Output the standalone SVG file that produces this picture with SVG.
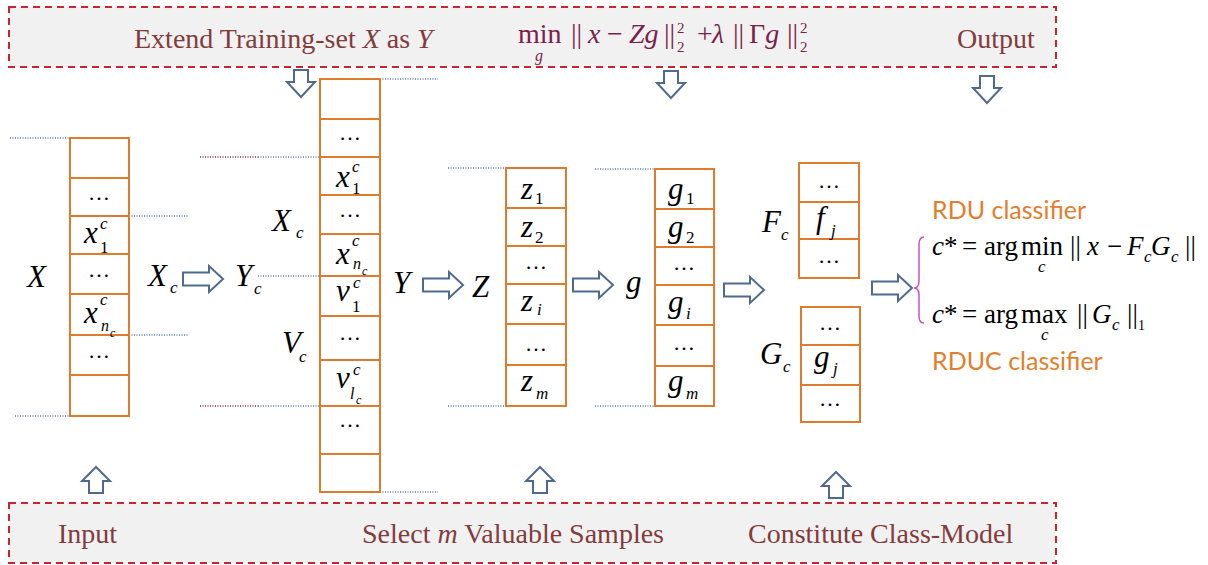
<svg xmlns="http://www.w3.org/2000/svg" xmlns:xlink="http://www.w3.org/1999/xlink" width="1208" height="565" viewBox="0 0 1208 565">
<style>
.ban{fill:#f1f1f1;stroke:#c8262e;stroke-width:2;stroke-dasharray:7 5}
.bt{font-family:"Liberation Serif",serif;font-size:28px;fill:#833c3c}
.fm{font-family:"Liberation Serif",serif;font-size:28px;fill:#7a1f4c}
.cell{fill:#fff;stroke:#e07b2c;stroke-width:2}
.it{font-family:"Liberation Serif",serif;font-style:italic;fill:#000}
.rm{font-family:"Liberation Serif",serif;fill:#000}
.dots{font-family:"Liberation Serif",serif;font-size:22px;text-anchor:middle;fill:#000}
.blk{fill:#fff;stroke:#4f6a8f;stroke-width:2}
.db{stroke:#5878b0;stroke-width:1.3;stroke-dasharray:1 1.5;fill:none}
.dr{stroke:#8a2a44;stroke-width:1.3;stroke-dasharray:1 1.5;fill:none}
.or{font-family:Lato,"Liberation Sans",sans-serif;font-size:25px;fill:#e27e2d}
.L{font-size:31px}.M{font-size:31px}.F{font-size:27px}.S{font-size:17px}.SS{font-size:12px}
</style>
<defs>
<path id="ar" d="M0,-6.5 H26 V-13 L40,0 L26,13 V6.5 H0 Z"/>
<path id="ad" d="M-7,0 H7 V12 H14 L0,27 L-14,12 H-7 Z"/>
<path id="au" d="M-7,26 H7 V14 H14 L0,0 L-14,14 H-7 Z"/>
</defs>

<g id="top-banner">
<rect class="ban" x="9" y="7" width="1047" height="60"/>
<text class="bt" x="134" y="48">Extend Training-set <tspan font-style="italic">X</tspan> as <tspan font-style="italic">Y</tspan></text>
<text class="bt" x="957" y="48">Output</text>
<g class="fm">
<text x="518" y="43">min</text>
<text x="535" y="61" font-style="italic" font-size="16">g</text>
<text x="571" y="43">||</text>
<text x="588" y="43" font-style="italic">x</text>
<text x="607" y="43">−</text>
<text x="629" y="43" font-style="italic">Zg</text>
<text x="664" y="43">||</text>
<text x="677" y="33" font-size="15">2</text>
<text x="677" y="52" font-size="15">2</text>
<text x="697" y="43">+</text>
<text x="712" y="43" font-style="italic">λ</text>
<text x="733" y="43">||</text>
<text x="749" y="43">Γ<tspan font-style="italic">g</tspan></text>
<text x="787" y="43">||</text>
<text x="800" y="33" font-size="15">2</text>
<text x="800" y="52" font-size="15">2</text>
</g>
</g>
<g id="bottom-banner">
<rect class="ban" x="9" y="503" width="1047" height="60"/>
<text class="bt" x="58" y="543">Input</text>
<text class="bt" x="362" y="543">Select <tspan font-style="italic">m</tspan> Valuable Samples</text>
<text class="bt" x="748" y="543">Constitute Class-Model</text>
</g>

<g id="connectors">
<line class="db" x1="10" y1="138" x2="70" y2="138"/>
<line class="db" x1="15" y1="416" x2="70" y2="416"/>
<line class="db" x1="129" y1="216" x2="188" y2="216"/>
<line class="db" x1="129" y1="335" x2="188" y2="335"/>
<line class="dr" x1="200" y1="157" x2="258" y2="157"/>
<line class="db" x1="258" y1="157" x2="320" y2="157"/>
<line class="db" x1="258" y1="276" x2="320" y2="276"/>
<line class="dr" x1="200" y1="406" x2="258" y2="406"/>
<line class="db" x1="258" y1="406" x2="320" y2="406"/>
<line class="db" x1="380" y1="79" x2="438" y2="79"/>
<line class="db" x1="380" y1="492" x2="438" y2="492"/>
<line class="db" x1="448" y1="168" x2="506" y2="168"/>
<line class="db" x1="448" y1="406" x2="506" y2="406"/>
<line class="db" x1="595" y1="169" x2="655" y2="169"/>
<line class="db" x1="595" y1="406" x2="655" y2="406"/>
<use class="blk" href="#ar" x="183" y="279"/>
<use class="blk" href="#ar" x="423" y="285"/>
<use class="blk" href="#ar" x="573" y="285"/>
<use class="blk" href="#ar" x="724" y="290"/>
<use class="blk" href="#ar" x="872" y="288"/>
<use class="blk" href="#ad" x="301" y="70"/>
<use class="blk" href="#ad" x="671" y="71"/>
<use class="blk" href="#ad" x="987" y="76"/>
<use class="blk" href="#au" x="96" y="467"/>
<use class="blk" href="#au" x="540" y="467"/>
<use class="blk" href="#au" x="836" y="472"/>
<path d="M924,237 Q919,237 919,245 L919,281 Q919,288 914,288 Q919,288 919,295 L919,316 Q919,323 924,323" fill="none" stroke="#cc44c4" stroke-width="1.4"/>
</g>

<g id="labels">
<text class="it L" x="27" y="287">X</text>
<text class="it L" x="148" y="286">X</text><text class="it S" x="170" y="293">c</text>
<text class="it L" x="235" y="286">Y</text><text class="it S" x="254" y="294">c</text>
<text class="it L" x="272" y="231">X</text><text class="it S" x="296" y="238">c</text>
<text class="it L" x="282" y="353">V</text><text class="it S" x="299" y="362">c</text>
<text class="it L" x="393" y="293">Y</text>
<text class="it L" x="472" y="297">Z</text>
<text class="it L" x="626" y="292">g</text>
<text class="it L" x="762" y="232">F</text><text class="it S" x="781" y="240">c</text>
<text class="it L" x="760" y="364">G</text><text class="it S" x="783" y="372">c</text>
</g>

<g id="col-X">
<rect class="cell" x="70" y="138" width="59" height="40"/>
<rect class="cell" x="70" y="178" width="59" height="38"/>
<rect class="cell" x="70" y="216" width="59" height="38"/>
<rect class="cell" x="70" y="254" width="59" height="40"/>
<rect class="cell" x="70" y="294" width="59" height="41"/>
<rect class="cell" x="70" y="335" width="59" height="40"/>
<rect class="cell" x="70" y="375" width="59" height="41"/>
<text class="dots" x="99" y="200">…</text>
<text class="it M" x="84" y="243">x</text><text class="it S" x="100" y="229">c</text><text class="rm S" x="100" y="253">1</text>
<text class="dots" x="99" y="277">…</text>
<text class="it M" x="84" y="323">x</text><text class="it S" x="100" y="305">c</text><text class="it" font-size="16" x="101" y="331">n</text><text class="it SS" x="110" y="337">c</text>
<text class="dots" x="99" y="358">…</text>
</g>

<g id="col-Y">
<rect class="cell" x="320" y="79" width="60" height="40"/>
<rect class="cell" x="320" y="119" width="60" height="38"/>
<rect class="cell" x="320" y="157" width="60" height="38"/>
<rect class="cell" x="320" y="195" width="60" height="39"/>
<rect class="cell" x="320" y="234" width="60" height="42"/>
<rect class="cell" x="320" y="276" width="60" height="40"/>
<rect class="cell" x="320" y="316" width="60" height="44"/>
<rect class="cell" x="320" y="360" width="60" height="46"/>
<rect class="cell" x="320" y="406" width="60" height="48"/>
<rect class="cell" x="320" y="454" width="60" height="38"/>
<text class="dots" x="350" y="140">…</text>
<text class="it M" x="336" y="187">x</text><text class="it S" x="352" y="172">c</text><text class="rm S" x="352" y="194">1</text>
<text class="dots" x="350" y="217">…</text>
<text class="it M" x="336" y="264">x</text><text class="it S" x="352" y="246">c</text><text class="it" font-size="16" x="353" y="269">n</text><text class="it SS" x="362" y="275">c</text>
<text class="it M" x="336" y="301">v</text><text class="it S" x="353" y="288">c</text><text class="rm S" x="352" y="312">1</text>
<text class="dots" x="350" y="340">…</text>
<text class="it M" x="336" y="388">v</text><text class="it S" x="353" y="375">c</text><text class="it" font-size="16" x="350" y="399">l</text><text class="it SS" x="356" y="404">c</text>
<text class="dots" x="350" y="427">…</text>
</g>

<g id="col-Z">
<rect class="cell" x="506" y="168" width="60" height="40"/>
<rect class="cell" x="506" y="208" width="60" height="38"/>
<rect class="cell" x="506" y="246" width="60" height="38"/>
<rect class="cell" x="506" y="284" width="60" height="40"/>
<rect class="cell" x="506" y="324" width="60" height="41"/>
<rect class="cell" x="506" y="365" width="60" height="41"/>
<text class="it M" x="521" y="199">z</text><text class="rm S" x="535" y="204">1</text>
<text class="it M" x="521" y="237">z</text><text class="rm S" x="535" y="243">2</text>
<text class="dots" x="536" y="269">…</text>
<text class="it M" x="521" y="311">z</text><text class="it S" x="537" y="315">i</text>
<text class="dots" x="536" y="351">…</text>
<text class="it M" x="521" y="391">z</text><text class="it S" x="536" y="399">m</text>
</g>

<g id="col-g">
<rect class="cell" x="655" y="169" width="59" height="40"/>
<rect class="cell" x="655" y="209" width="59" height="38"/>
<rect class="cell" x="655" y="247" width="59" height="38"/>
<rect class="cell" x="655" y="285" width="59" height="40"/>
<rect class="cell" x="655" y="325" width="59" height="41"/>
<rect class="cell" x="655" y="366" width="59" height="40"/>
<text class="it M" x="668" y="199">g</text><text class="rm S" x="686" y="204">1</text>
<text class="it M" x="668" y="237">g</text><text class="rm S" x="686" y="243">2</text>
<text class="dots" x="684" y="270">…</text>
<text class="it M" x="668" y="312">g</text><text class="it S" x="686" y="319">i</text>
<text class="dots" x="684" y="350">…</text>
<text class="it M" x="668" y="391">g</text><text class="it S" x="686" y="399">m</text>
</g>

<g id="col-F">
<rect class="cell" x="799" y="163" width="60" height="39"/>
<rect class="cell" x="799" y="202" width="60" height="37"/>
<rect class="cell" x="799" y="239" width="60" height="39"/>
<text class="dots" x="829" y="188">…</text>
<text class="it M" x="816" y="228">f</text><text class="it S" x="831" y="236">j</text>
<text class="dots" x="829" y="263">…</text>
</g>

<g id="col-G">
<rect class="cell" x="801" y="307" width="59" height="38"/>
<rect class="cell" x="801" y="345" width="59" height="40"/>
<rect class="cell" x="801" y="385" width="59" height="37"/>
<text class="dots" x="830" y="330">…</text>
<text class="it M" x="814" y="367">g</text><text class="it S" x="833" y="374">j</text>
<text class="dots" x="830" y="406">…</text>
</g>

<g id="classifiers">
<text class="or" x="932" y="219">RDU classifier</text>
<text class="or" x="932" y="370">RDUC classifier</text>
<text class="it F" x="932" y="255">c<tspan font-style="normal">*</tspan></text>
<text class="rm F" x="962" y="255">=</text>
<text class="rm F" x="984" y="255">arg</text>
<text class="rm F" x="1021" y="255">min</text>
<text class="it S" x="1038" y="272">c</text>
<text class="rm F" x="1070" y="255">||</text>
<text class="it F" x="1087" y="255">x</text>
<text class="rm F" x="1107" y="255">−</text>
<text class="it F" x="1127" y="255">F</text>
<text class="it S" x="1144" y="262">c</text>
<text class="it F" x="1151" y="255">G</text>
<text class="it S" x="1171" y="262">c</text>
<text class="rm F" x="1185" y="255">||</text>

<text class="it F" x="932" y="323">c<tspan font-style="normal">*</tspan></text>
<text class="rm F" x="962" y="323">=</text>
<text class="rm F" x="984" y="323">arg</text>
<text class="rm F" x="1021" y="323">max</text>
<text class="it S" x="1041" y="340">c</text>
<text class="rm F" x="1077" y="323">||</text>
<text class="it F" x="1092" y="323">G</text>
<text class="it S" x="1112" y="330">c</text>
<text class="rm F" x="1127" y="323">||</text>
<text class="rm" font-size="14" x="1138" y="330">1</text>
</g>
</svg>
